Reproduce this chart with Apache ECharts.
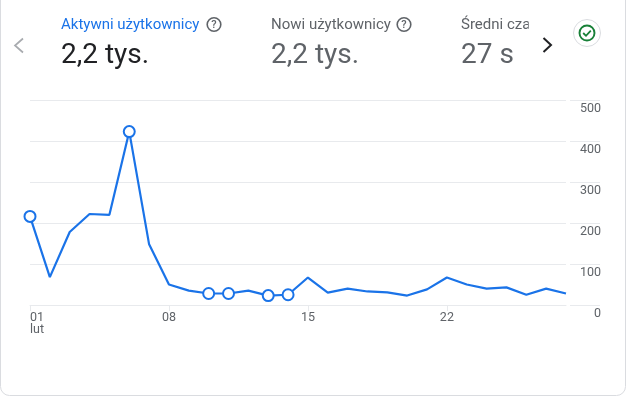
<!DOCTYPE html>
<html><head><meta charset="utf-8">
<style>html,body{margin:0;padding:0;background:#fff}#c{width:626px;height:396px}</style>
<script src="https://cdn.jsdelivr.net/npm/echarts@6/dist/echarts.min.js"></script>
</head><body><div id="c"></div>
<script>
const days = ['01','02','03','04','05','06','07','08','09','10','11','12','13','14','15','16','17','18','19','20','21','22','23','24','25','26','27','28'];
const users = [216,68,178,222,220,423,148,50,35,28,28,35,23,25,67,30,40,33,31,23,38,67,50,40,43,25,40,28];
const markedDays = ['01','06','10','11','13','14'];
const monthLabel = 'lut';
const yTicks = [0,100,200,300,400,500];
const BLUE='#1a73e8', GREY='#5f6368', DARK='#202124', LINE='#e8eaed';
const F='Roboto';
const chart = echarts.init(document.getElementById('c'),null,{renderer:'canvas'});
function txt(x,y,s,size,color){return {type:'text',x,y,z:20,style:{text:s,fontFamily:F,fontSize:size,fill:color,textVerticalAlign:'middle'}};}
function help(cx,cy,color){return [
 {type:'circle',z:20,shape:{cx,cy,r:6.8},style:{fill:'none',stroke:color,lineWidth:1.6}},
 {type:'text',x:cx,y:cy+.5,z:20,style:{text:'?',fontFamily:F,fontWeight:500,fontSize:11,fill:color,textAlign:'center',textVerticalAlign:'middle'}}];}
function chev(points,color,w){return {type:'polyline',z:20,shape:{points},style:{fill:'none',stroke:color,lineWidth:w}};}
chart.setOption({
 animation:false,
 backgroundColor:'#fff',
 grid:[{left:30,top:100,width:536,height:205},{left:570,top:100,width:30,height:205}],
 xAxis:[
  {type:'category',gridIndex:0,data:days,boundaryGap:false,
   axisLine:{lineStyle:{color:LINE,width:1}},
   axisTick:{show:true,alignWithLabel:true,interval:6,length:6,lineStyle:{color:LINE}},
   axisLabel:{interval:6,alignMinLabel:'left',margin:7,color:GREY,fontFamily:F,fontSize:12.5,lineHeight:12,verticalAlign:'top',
     formatter:(v,i)=>i===0?v+'\n'+monthLabel:v},
   splitLine:{show:false}},
  {type:'value',gridIndex:1,show:false,min:0,max:1}],
 yAxis:[
  {type:'value',gridIndex:0,min:0,max:yTicks[yTicks.length-1],interval:100,position:'right',
   axisLine:{show:false},axisTick:{show:false},axisLabel:{show:false},
   splitLine:{lineStyle:{color:LINE,width:1}}},
  {type:'value',gridIndex:1,min:0,max:yTicks[yTicks.length-1],interval:100,position:'right',
   axisLine:{show:false},axisTick:{show:false},
   axisLabel:{inside:true,align:'right',verticalAlign:'top',margin:-1,padding:[2,0,0,0],color:GREY,fontFamily:F,fontSize:12.5},
   splitLine:{lineStyle:{color:LINE,width:1}}}],
 series:[{type:'line',xAxisIndex:0,yAxisIndex:0,clip:false,z:5,
   data:users.map((v,i)=>({value:v,symbol:markedDays.includes(days[i])?'circle':'none',symbolSize:11})),
   showAllSymbol:true,
   lineStyle:{color:BLUE,width:2.2},
   itemStyle:{color:'#fff',borderColor:BLUE,borderWidth:2}}],
 graphic:[
  {type:'rect',z:1,shape:{x:.5,y:-20,width:625,height:415.5,r:9},style:{fill:'none',stroke:'#dadce0',lineWidth:1}},
  chev([[23,38.5],[15,45.5],[23,52.5]],'#a8abaf',1.7),
  txt(61,25.5,'Aktywni użytkownicy',15,BLUE),
  ...help(214,24.5,GREY),
  txt(61,56,'2,2 tys.',28,DARK),
  txt(271,25.5,'Nowi użytkownicy',15,GREY),
  ...help(404,24.5,GREY),
  txt(271,56,'2,2 tys.',28,GREY),
  txt(461,25.5,'Średni czas',15,GREY),
  {type:'rect',z:21,shape:{x:528.7,y:15,width:12,height:22},style:{fill:'#fff'}},
  txt(461,56,'27 s',28,GREY),
  chev([[543.5,38],[551,45],[543.5,52]],DARK,2),
  {type:'circle',z:20,shape:{cx:587,cy:33,r:13.5},style:{fill:'#fff',stroke:'#dadce0',lineWidth:1}},
  {type:'circle',z:21,shape:{cx:587,cy:33,r:7.5},style:{fill:'none',stroke:'#188038',lineWidth:1.9}},
  chev([[583.2,33],[586,35.8],[590.8,30.6]],'#188038',1.8)
 ]
});
</script></body></html>
